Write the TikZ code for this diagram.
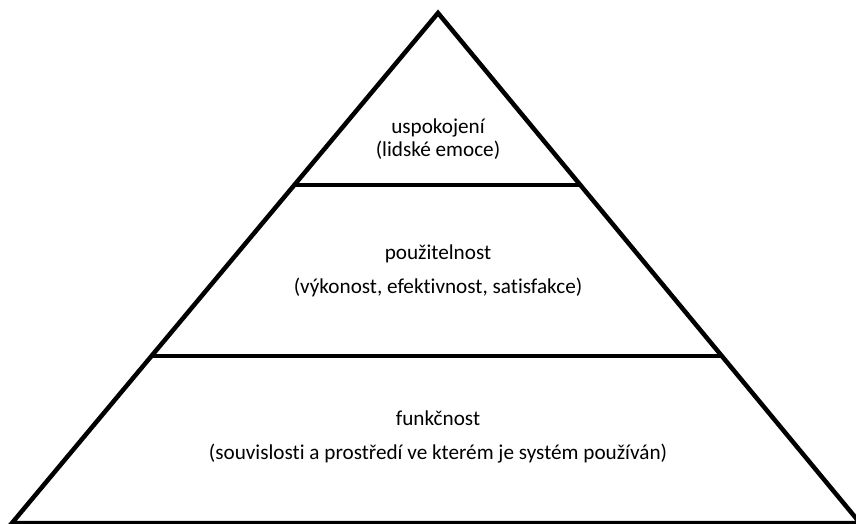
\documentclass[tikz,border=0pt]{standalone}
\usepackage{fontspec}
\setmainfont{Carlito}[Ligatures=NoCommon]
\usetikzlibrary{positioning,calc}
\tikzset{
  pyline/.style={line width=4.5pt, draw=black, line join=miter},
  pytext/.style={align=center, font=\fontsize{21.2}{24}\selectfont, inner sep=0pt}
}

\begin{document}
\begin{tikzpicture}[x=1pt,y=-1pt]
  \useasboundingbox (0,0) rectangle (856,524);
  \coordinate (apex) at (438,13);
  \coordinate (bl) at (12,523);
  \coordinate (br) at (860,523);
  \draw[pyline] (bl) -- (apex) -- (br) -- cycle;
  \draw[pyline] ($(apex)!0.337!(bl)$) -- ($(apex)!0.337!(br)$);
  \draw[pyline] ($(apex)!0.673!(bl)$) -- ($(apex)!0.673!(br)$);
  \node[pytext, anchor=base] (top1) at (438,134) {uspokojení};
  \node[pytext, anchor=base] (top2) at (438,156) {(lidské emoce)};
  \node[pytext, anchor=base] (mid1) at (438,259) {použitelnost};
  \node[pytext, anchor=base] (mid2) at (438,293) {(výkonost, efektivnost, satisfakce)};
  \node[pytext, anchor=base] (low1) at (438,425) {funkčnost};
  \node[pytext, anchor=base] (low2) at (438,459) {(souvislosti a prostředí ve kterém je systém používán)};
\end{tikzpicture}
\end{document}
